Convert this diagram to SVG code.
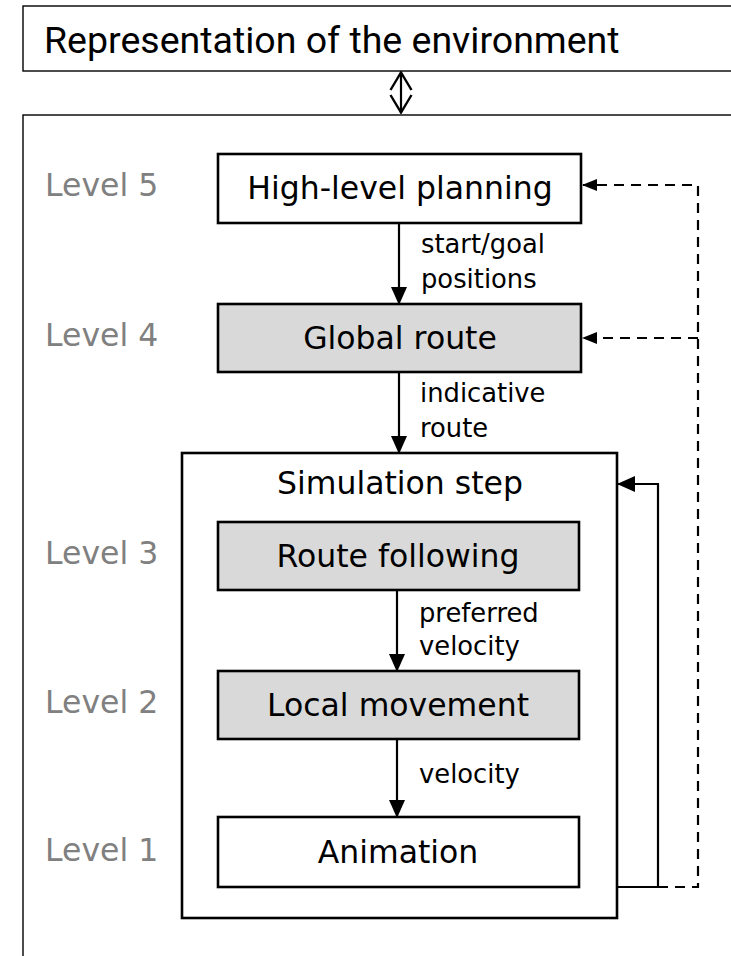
<svg xmlns="http://www.w3.org/2000/svg" width="731" height="956" viewBox="0 0 731 956">
<style>
.box{fill:#fff;stroke:#000;stroke-width:2.6}
.gray{fill:#d9d9d9}
.t{font-family:"DejaVu Sans",Verdana,sans-serif;font-size:31.5px;fill:#000;text-anchor:middle}
.lvl{font-family:"DejaVu Sans",Verdana,sans-serif;font-size:31.5px;fill:#808080}
.lbl{font-family:"DejaVu Sans",Verdana,sans-serif;font-size:25.8px;fill:#000}
.c{fill:none;stroke:#000;stroke-width:2.2}
.d{fill:none;stroke:#000;stroke-width:2.2;stroke-dasharray:10 7}
</style>
<defs>
<marker id="ah" viewBox="0 0 18 16" refX="17" refY="8" markerWidth="18" markerHeight="16" orient="auto" markerUnits="userSpaceOnUse">
<path d="M0,0 L18,8 L0,16 z" fill="#000"/>
</marker>
<marker id="ahs" viewBox="0 0 15 12" refX="14" refY="6" markerWidth="15" markerHeight="12" orient="auto" markerUnits="userSpaceOnUse">
<path d="M0,0 L15,6 L0,12 z" fill="#000"/>
</marker>
<marker id="open" viewBox="0 0 20 24" refX="19" refY="12" markerWidth="20" markerHeight="24" orient="auto-start-reverse" markerUnits="userSpaceOnUse">
<path d="M1,1.5 L18.5,12 L1,22.5" fill="none" stroke="#000" stroke-width="2.4"/>
</marker>
</defs>
<g id="environment">
<rect x="23" y="6" width="720" height="65" fill="#fff" stroke="#000" stroke-width="1.4"/>
<text x="44" y="53" font-family="Roboto,sans-serif" font-size="37.5" fill="#000">Representation of the environment</text>
</g>
<g id="agent">
<rect x="23" y="115" width="720" height="860" fill="#fff" stroke="#000" stroke-width="1.4"/>
</g>
<g id="levels">
<text class="lvl" x="45" y="196">Level 5</text>
<text class="lvl" x="45" y="346">Level 4</text>
<text class="lvl" x="45" y="564">Level 3</text>
<text class="lvl" x="45" y="713">Level 2</text>
<text class="lvl" x="45" y="861">Level 1</text>
</g>
<g id="sim-step">
<rect class="box" x="182" y="453" width="435" height="465"/>
<text class="t" x="400" y="494">Simulation step</text>
</g>
<g id="high-level-planning">
<rect class="box" x="218" y="154" width="363" height="69"/>
<text class="t" x="400" y="199">High-level planning</text>
</g>
<g id="global-route">
<rect class="box gray" x="218" y="304" width="363" height="68"/>
<text class="t" x="400" y="349">Global route</text>
</g>
<g id="route-following">
<rect class="box gray" x="218" y="522" width="361" height="68"/>
<text class="t" x="398" y="567">Route following</text>
</g>
<g id="local-movement">
<rect class="box gray" x="218" y="671" width="361" height="68"/>
<text class="t" x="398" y="716">Local movement</text>
</g>
<g id="animation">
<rect class="box" x="218" y="817" width="361" height="70"/>
<text class="t" x="398" y="863">Animation</text>
</g>
<g id="connectors">
<line x1="401" y1="72" x2="401" y2="113" stroke="#000" stroke-width="2.2" marker-start="url(#open)" marker-end="url(#open)"/>
<line class="c" x1="399" y1="223" x2="399" y2="304" marker-end="url(#ah)"/>
<line class="c" x1="399" y1="372" x2="399" y2="453" marker-end="url(#ah)"/>
<line class="c" x1="397" y1="590" x2="397" y2="671" marker-end="url(#ah)"/>
<line class="c" x1="397" y1="739" x2="397" y2="817" marker-end="url(#ah)"/>
<polyline class="c" points="617,887 658,887 658,484 618,484" marker-end="url(#ah)"/>
<polyline class="d" points="658,887 698,887 698,185 583,185" marker-end="url(#ahs)"/>
<line class="d" x1="698" y1="338" x2="583" y2="338" marker-end="url(#ahs)"/>
<text class="lbl" x="421" y="253">start/goal</text>
<text class="lbl" x="421" y="288">positions</text>
<text class="lbl" x="420" y="402">indicative</text>
<text class="lbl" x="420" y="437">route</text>
<text class="lbl" x="419" y="622">preferred</text>
<text class="lbl" x="419" y="655">velocity</text>
<text class="lbl" x="419" y="783">velocity</text>
</g>
</svg>
